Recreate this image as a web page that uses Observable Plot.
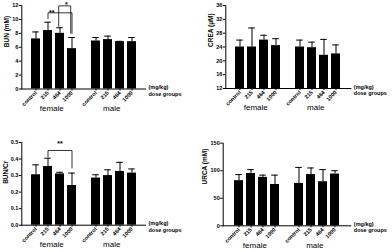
<!DOCTYPE html>
<html><head><meta charset="utf-8">
<script src="https://cdn.jsdelivr.net/npm/d3@7"></script>
<script src="https://cdn.jsdelivr.net/npm/@observablehq/plot@0.6"></script>
<style>
body{margin:0;background:#fff}
#wrap{position:relative;width:392px;height:252px;overflow:hidden;background:#fff}
.p{position:absolute}
.p svg{overflow:visible}
</style>
</head><body><div id="wrap"></div>
<script>
const doses = ["control", "215", "464", "1000"];
const sexes = ["female", "male"];

const bunFemale = [7.2, 8.4, 8.0, 5.8];
const bunFemaleSd = [1.0, 1.2, 0.8, 1.6];
const bunMale = [6.9, 7.1, 6.8, 6.8];
const bunMaleSd = [0.5, 0.5, 0.05, 0.6];

const creaFemale = [24.0, 24.0, 26.0, 24.4];
const creaFemaleSd = [2.0, 5.5, 1.4, 2.0];
const creaMale = [24.0, 23.8, 21.6, 22.0];
const creaMaleSd = [2.0, 1.6, 4.6, 2.6];

const ratioFemale = [0.305, 0.355, 0.31, 0.24];
const ratioFemaleSd = [0.06, 0.05, 0.01, 0.075];
const ratioMale = [0.285, 0.30, 0.325, 0.315];
const ratioMaleSd = [0.02, 0.035, 0.055, 0.025];

const urcaFemale = [82, 95, 88, 75];
const urcaFemaleSd = [11, 7, 4, 17];
const urcaMale = [77, 93, 80, 94];
const urcaMaleSd = [29, 12, 22, 6];

const bunTicks = [0, 2, 4, 6, 8, 10, 12];
const creaTicks = [12, 16, 20, 24, 28, 32, 36];
const ratioTicks = [0, 0.1, 0.2, 0.3, 0.4, 0.5];
const urcaTicks = [0, 50, 100, 150];

const PI = 0.25, PO = 0.575, W = 196, H = 126;
const FONT = "'Liberation Sans', Arial, Helvetica, sans-serif";

function panel(o) {
  const rows = [];
  sexes.forEach((s, si) => doses.forEach((d, di) => {
    const m = o.mean[si][di], e = o.sd[si][di];
    rows.push({k: s[0] + "|" + d, mean: m, up: m + e});
  }));
  const domain = [...doses.map(d => "f|" + d), "gap", ...doses.map(d => "m|" + d)];
  const step = (W - o.mL - o.mR) / (domain.length - PI + 2 * PO);
  const y0 = o.yTicks[0];
  const marks = [
    Plot.barY(rows, {x: "k", y1: () => y0, y2: "mean", fill: "black"}),
    Plot.ruleX(rows, {x: "k", y1: "mean", y2: "up", stroke: "black", strokeWidth: 1}),
    Plot.tickY(rows, {x: "k", y: "up", stroke: "black", strokeWidth: 1, inset: 1.2}),
    Plot.frame({anchor: "left", stroke: "black", strokeWidth: 1}),
    Plot.frame({anchor: "bottom", stroke: "black", strokeWidth: 1}),
    Plot.axisY({ticks: o.yTicks, tickFormat: o.yFormat, tickSize: 2.5, tickPadding: 1, fontSize: 5.5, fontWeight: "bold", label: null}),
    Plot.axisX({ticks: domain.filter(d => d !== "gap"), tickFormat: d => d.split("|")[1], tickRotate: -45, tickSize: 2, tickPadding: 1, fontSize: 5.5, fontWeight: "bold", label: null}),
    Plot.text([o.label], {frameAnchor: "left", rotate: -90, dx: o.titleDx, fontSize: 6.5, fontWeight: "bold"}),
    Plot.text(["(mg/kg)"], {frameAnchor: "bottom-right", textAnchor: "start", dx: 3, fontSize: 5.5, fontWeight: "bold"}),
    Plot.text(["dose groups"], {frameAnchor: "bottom-right", textAnchor: "start", dx: 3, dy: 6.5, fontSize: 5.5, fontWeight: "bold"}),
    Plot.text([{k: "f|215", t: "female"}, {k: "m|215", t: "male"}], {x: "k", text: "t", frameAnchor: "bottom", dy: o.groupDy, dx: step * 0.3, fontSize: 8})
  ];
  (o.brackets || []).forEach(b => {
    marks.push(Plot.line([{k: b.a, y: b.legA}, {k: b.a, y: b.top}, {k: b.b, y: b.top}, {k: b.b, y: b.legB}],
      {x: "k", y: "y", stroke: "black", strokeWidth: 0.8, dx: b.dx || 0}));
    marks.push(Plot.text([b.stars], {x: () => b.sx, y: () => b.top, dx: b.sdx * step, dy: b.sdy, fontSize: 7, fontWeight: "bold"}));
  });
  const chart = Plot.plot({
    width: W, height: H,
    marginLeft: o.mL, marginRight: o.mR, marginTop: o.mT, marginBottom: o.mB,
    style: {fontFamily: FONT, background: "transparent", overflow: "visible"},
    x: {type: "band", domain, paddingInner: PI, paddingOuter: PO, align: 0.5},
    y: {domain: [o.yTicks[0], o.yTicks[o.yTicks.length - 1]]},
    marks
  });
  const div = document.createElement("div");
  div.className = "p";
  div.style.left = o.left + "px";
  div.style.top = o.top + "px";
  div.appendChild(chart);
  document.getElementById("wrap").appendChild(div);
}

panel({
  label: "BUN (mM)", mean: [bunFemale, bunMale], sd: [bunFemaleSd, bunMaleSd],
  yTicks: bunTicks, yFormat: d => d, mL: 21.3, mR: 51, mT: 5, mB: 37.5, left: 0, top: 0, titleDx: -14.5, groupDy: 21.5,
  brackets: [
    {a: "f|215", b: "f|1000", top: 10.95, legA: 10.1, legB: 8.0, stars: "**", sx: "f|215", sdx: 0.3, sdy: -0.5},
    {a: "f|464", b: "f|1000", top: 11.95, legA: 9.0, legB: 8.0, dx: -1.3, stars: "*", sx: "f|464", sdx: 0.5, sdy: -1.5}
  ]
});
panel({
  label: "CREA (μM)", mean: [creaFemale, creaMale], sd: [creaFemaleSd, creaMaleSd],
  yTicks: creaTicks, yFormat: d => d, mL: 29.3, mR: 41.7, mT: 5, mB: 38, left: 196, top: 0, titleDx: -15, groupDy: 21.5
});
panel({
  label: "BUN/Cr", mean: [ratioFemale, ratioMale], sd: [ratioFemaleSd, ratioMaleSd],
  yTicks: ratioTicks, yFormat: d3.format(".1f"), mL: 21.3, mR: 51, mT: 16, mB: 27.3, left: 0, top: 126, titleDx: -16, groupDy: 22,
  brackets: [
    {a: "f|215", b: "f|1000", top: 0.452, legA: 0.415, legB: 0.345, stars: "**", sx: "f|464", sdx: 0, sdy: -7}
  ]
});
panel({
  label: "URCA (mM)", mean: [urcaFemale, urcaMale], sd: [urcaFemaleSd, urcaMaleSd],
  yTicks: urcaTicks, yFormat: d => d, mL: 26.7, mR: 41.7, mT: 16.7, mB: 26.7, left: 196, top: 126, titleDx: -18.5, groupDy: 22
});
</script></body></html>
